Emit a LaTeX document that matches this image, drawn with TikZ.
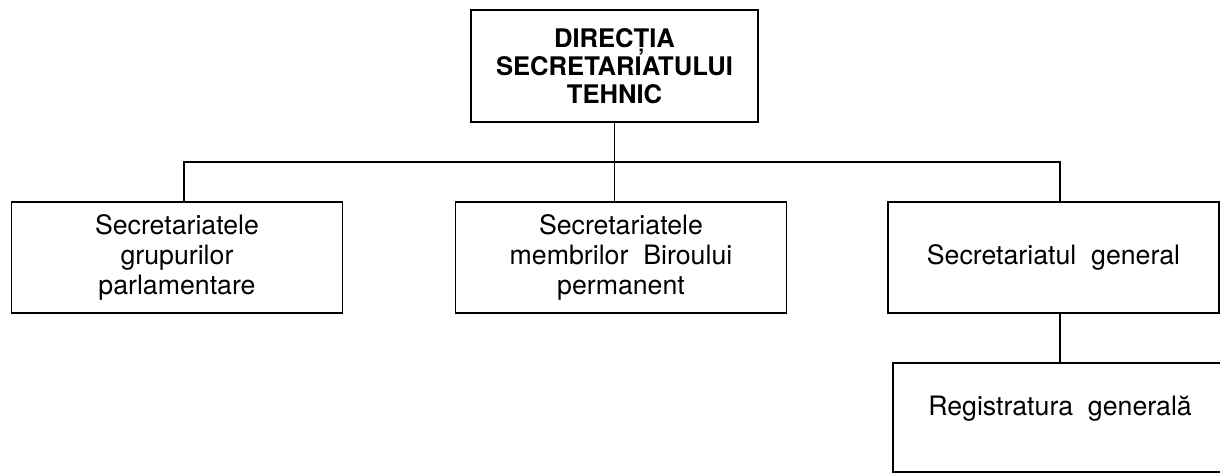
\documentclass[tikz,border=0pt]{standalone}
\usepackage{fontspec}
\setmainfont{TeX Gyre Heros}
\usetikzlibrary{positioning}

\begin{document}
\begin{tikzpicture}[x=0.025cm, y=-0.025cm, line width=1.05pt,
    unit/.style={draw, align=center, inner sep=0pt, minimum width=8.27cm, minimum height=2.77cm,
        font=\fontsize{19}{21.5}\selectfont},
    head/.style={draw, align=center, inner sep=0pt, minimum width=7.18cm, minimum height=2.8cm,
        font=\fontsize{18.2}{20}\selectfont\bfseries}
]
    \useasboundingbox (0,0) rectangle (1220,474);
    \node[head] (dir) at (614.5,66) {DIRECȚIA\\SECRETARIATULUI\\TEHNIC};
    \node[unit] (grp) at (177,257.5) {Secretariatele\\grupurilor\\parlamentare};
    \node[unit] (mem) at (621,257.5) {Secretariatele\\membrilor~ Biroului\\permanent};
    \node[unit] (gen) at (1053.5,257.5) {Secretariatul~ general};
    \node[unit, minimum width=8.35cm, minimum height=2.72cm, text height=0.5cm, text depth=0.6cm] (reg) at (1060,417.5) {Registratura~ generală};
    \coordinate (bus) at (0,162);
    \coordinate (grptop) at ([xshift=0.17cm]grp.north);
    \coordinate (gentop) at ([xshift=0.16cm]gen.north);
    % connectors
    \draw (dir.south) -- (dir.south |- mem.north);
    \draw (grptop) -- (grptop |- bus) -- (gentop |- bus) -- (gentop);
    \draw (gentop |- gen.south) -- (gentop |- reg.north);
\end{tikzpicture}
\end{document}
